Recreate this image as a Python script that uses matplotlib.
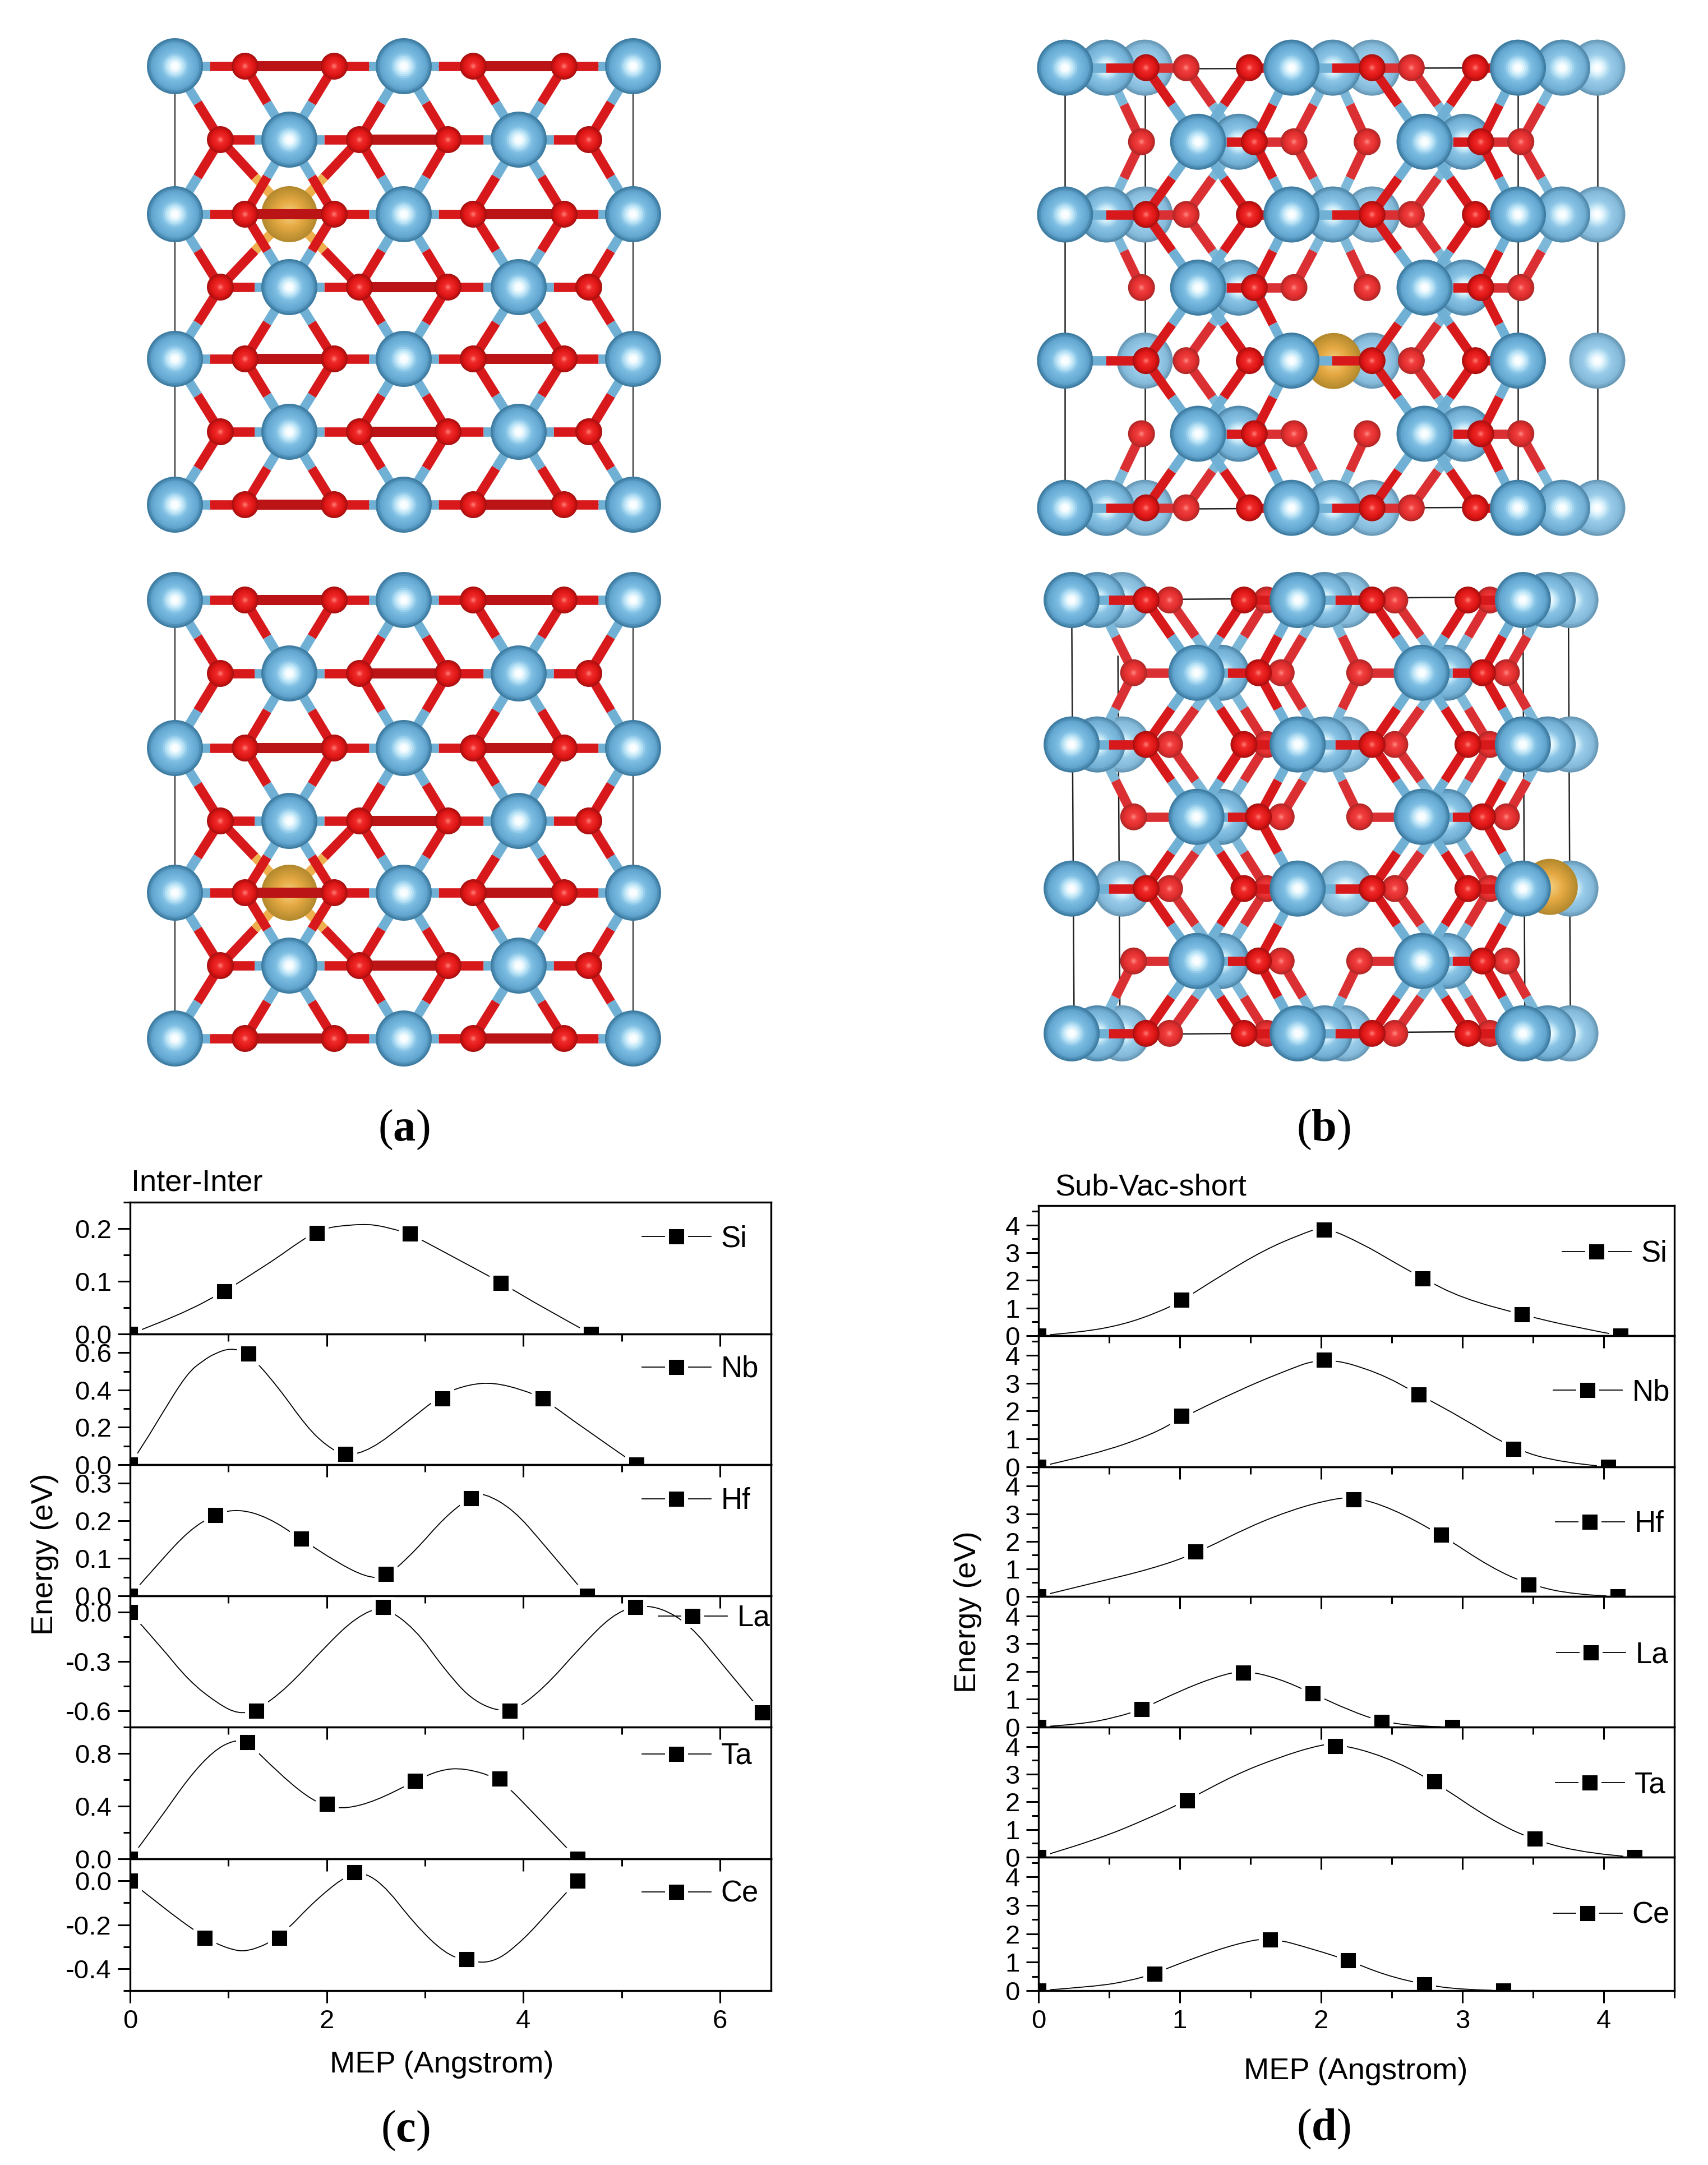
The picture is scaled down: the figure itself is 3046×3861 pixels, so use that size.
import numpy as np
import matplotlib
matplotlib.use('Agg')
import matplotlib.pyplot as plt
from matplotlib.colors import LinearSegmentedColormap, to_rgb
from matplotlib.lines import Line2D
from matplotlib.patches import PathPatch
from matplotlib.path import Path
from matplotlib.ticker import MultipleLocator

W, H = 3046, 3861
plt.rcParams['font.family'] = ['Liberation Sans', 'DejaVu Sans']
plt.rcParams['mathtext.fontset'] = 'custom'
plt.rcParams['mathtext.bf'] = 'Liberation Serif:bold'
plt.rcParams['mathtext.rm'] = 'Liberation Serif'
plt.rcParams['axes.unicode_minus'] = False

# Panel (c) Inter-Inter: points and the curve
c_si_x = [0, 0.96, 1.90, 2.845, 3.77, 4.69]
c_si_y = [0, 0.081, 0.192, 0.19, 0.097, 0]
c_si_cx = [0, 0.5, 1.0, 1.25, 1.5, 1.7, 1.9, 2.05, 2.2, 2.35, 2.5, 2.7, 2.85, 3.3, 3.77, 4.2, 4.69]
c_si_cy = [0, 0.035, 0.085, 0.115, 0.145, 0.172, 0.195, 0.203, 0.206, 0.208, 0.207, 0.198, 0.19, 0.145, 0.098, 0.05, 0]
c_nb_x = [0, 1.205, 2.19, 3.18, 4.2, 5.15]
c_nb_y = [0, 0.595, 0.057, 0.355, 0.355, 0]
c_nb_cx = [0, 0.15, 0.31, 0.58, 0.75, 0.86, 1.02, 1.2, 1.5, 1.8, 2.0, 2.19, 2.45, 2.8, 3.18, 3.45, 3.7, 4.0, 4.2, 4.6, 5.15]
c_nb_cy = [0, 0.12, 0.26, 0.49, 0.56, 0.595, 0.625, 0.6, 0.42, 0.2, 0.1, 0.045, 0.08, 0.22, 0.38, 0.43, 0.44, 0.40, 0.355, 0.2, 0]
c_hf_x = [0, 0.867, 1.74, 2.6, 3.47, 4.65]
c_hf_y = [0, 0.215, 0.152, 0.058, 0.26, 0]
c_hf_cx = [0, 0.3, 0.6, 0.867, 1.1, 1.4, 1.74, 2.1, 2.4, 2.6, 2.9, 3.2, 3.47, 3.6, 3.9, 4.2, 4.65]
c_hf_cy = [0, 0.09, 0.175, 0.218, 0.232, 0.21, 0.152, 0.09, 0.05, 0.048, 0.12, 0.21, 0.265, 0.275, 0.23, 0.14, 0]
c_la_x = [0, 1.285, 2.57, 3.86, 5.14, 6.43]
c_la_y = [0, -0.6, 0.03, -0.6, 0.03, -0.61]
c_la_cx = [0, 0.3, 0.6, 0.9, 1.1, 1.285, 1.6, 2.0, 2.3, 2.57, 2.9, 3.2, 3.5, 3.86, 4.2, 4.6, 4.9, 5.14, 5.4, 5.7, 6.0, 6.43]
c_la_cy = [0, -0.2, -0.42, -0.56, -0.62, -0.6, -0.46, -0.2, -0.03, 0.04, -0.1, -0.35, -0.55, -0.62, -0.47, -0.2, -0.02, 0.04, 0.03, -0.08, -0.3, -0.61]
c_ta_x = [0, 1.19, 2.0, 2.9, 3.76, 4.55]
c_ta_y = [0, 0.885, 0.418, 0.59, 0.61, 0]
c_ta_cx = [0, 0.3, 0.6, 0.85, 1.05, 1.19, 1.5, 1.8, 2.0, 2.2, 2.5, 2.9, 3.15, 3.4, 3.76, 4.1, 4.55]
c_ta_cy = [0, 0.3, 0.62, 0.82, 0.9, 0.89, 0.66, 0.47, 0.4, 0.38, 0.44, 0.59, 0.675, 0.69, 0.61, 0.35, 0]
c_ce_x = [0, 0.757, 1.52, 2.28, 3.42, 4.55]
c_ce_y = [0, -0.26, -0.26, 0.04, -0.358, 0]
c_ce_cx = [0, 0.3, 0.757, 1.0, 1.2, 1.52, 1.9, 2.28, 2.55, 2.9, 3.2, 3.42, 3.7, 4.0, 4.3, 4.55]
c_ce_cy = [0, -0.11, -0.26, -0.31, -0.325, -0.26, -0.08, 0.05, 0, -0.2, -0.33, -0.365, -0.375, -0.27, -0.12, 0]

# Panel (d) Sub-Vac-short
d_si_x = [0, 1.01, 2.02, 2.72, 3.42, 4.12]
d_si_y = [0, 1.29, 3.83, 2.07, 0.76, 0]
d_si_cx = [0, 0.3, 0.6, 0.85, 1.01, 1.3, 1.6, 1.85, 2.02, 2.3, 2.5, 2.72, 3.0, 3.42, 3.8, 4.12]
d_si_cy = [0, 0.12, 0.4, 0.85, 1.25, 2.2, 3.1, 3.65, 3.95, 3.3, 2.7, 2.07, 1.35, 0.76, 0.3, 0]
d_nb_x = [0, 1.01, 2.02, 2.69, 3.36, 4.03]
d_nb_y = [0, 1.83, 3.83, 2.6, 0.64, 0]
d_nb_cx = [0, 0.4, 0.8, 1.01, 1.4, 1.7, 2.02, 2.4, 2.69, 3.0, 3.36, 3.7, 4.03]
d_nb_cy = [0, 0.45, 1.15, 1.75, 2.7, 3.35, 3.95, 3.4, 2.6, 1.75, 0.64, 0.15, 0]
d_hf_x = [0, 1.11, 2.23, 2.85, 3.47, 4.1]
d_hf_y = [0, 1.62, 3.52, 2.24, 0.43, 0]
d_hf_cx = [0, 0.4, 0.8, 1.11, 1.5, 1.8, 2.05, 2.23, 2.5, 2.85, 3.2, 3.47, 3.8, 4.1]
d_hf_cy = [0, 0.5, 1.0, 1.55, 2.55, 3.15, 3.5, 3.62, 3.2, 2.24, 1.05, 0.43, 0.05, 0]
d_la_x = [0, 0.73, 1.45, 1.94, 2.43, 2.93]
d_la_y = [0, 0.64, 1.95, 1.21, 0.19, 0]
d_la_cx = [0, 0.3, 0.55, 0.73, 1.0, 1.25, 1.45, 1.7, 1.94, 2.2, 2.43, 2.7, 2.93]
d_la_cy = [0, 0.1, 0.35, 0.64, 1.3, 1.8, 2.05, 1.75, 1.21, 0.6, 0.19, 0.02, 0]
d_ta_x = [0, 1.05, 2.1, 2.8, 3.51, 4.22]
d_ta_y = [0, 2.05, 4.02, 2.74, 0.67, 0]
d_ta_cx = [0, 0.4, 0.8, 1.05, 1.4, 1.7, 1.95, 2.1, 2.45, 2.8, 3.2, 3.51, 3.9, 4.22]
d_ta_cy = [0, 0.6, 1.45, 2.05, 3.0, 3.6, 4.0, 4.12, 3.65, 2.74, 1.35, 0.6, 0.12, 0]
d_ce_x = [0, 0.82, 1.64, 2.19, 2.73, 3.29]
d_ce_y = [0, 0.6, 1.79, 1.07, 0.21, 0]
d_ce_cx = [0, 0.4, 0.65, 0.82, 1.1, 1.4, 1.64, 1.95, 2.19, 2.45, 2.73, 3.0, 3.29]
d_ce_cy = [0, 0.14, 0.35, 0.6, 1.15, 1.65, 1.88, 1.45, 1.07, 0.55, 0.21, 0.03, 0]

# y axis of each row: limits, major step, minor step
c_ylims = [(0, 0.25), (0, 0.7), (0, 0.35), (-0.7, 0.1), (0, 1.0), (-0.5, 0.1)]
c_major = [0.1, 0.2, 0.1, 0.3, 0.4, 0.2]
c_minor = [0.05, 0.1, 0.05, 0.15, 0.2, 0.1]

# Atom sites of panel (a), image pixels
a_hf_a_x = [312, 720, 1129]
a_hf_b_x = [516, 925]
a_o_a_x = [437, 596, 844, 1006]
a_o_b_x = [393, 641, 799, 1050]
a_rows_a = [118, 382, 640, 900]
a_rows_b = [249, 512, 770]
a_shift = 952

# Atom sites of panel (b), measured on the crops: three stacked layers
b1_hf_a_x = [162, 710, 1258]
b1_hf_b_x = [484, 1032]
b1_o_a_x = [358, 608, 905, 1155]
b1_o_b_x = [620, 1168]
b2_hf_a_x = [262, 810, 1365]
b2_hf_b_x = [582, 1128]
b2_o_a_x = [455, 1000]
b2_o_b_x = [347, 716, 893, 1265]
b3_hf_a_x = [355, 905, 1450]
b_rows_a = [116, 546, 974, 1405]
b_rows_b = [333, 760, 1188]

e1_hf_a_x = [178, 725, 1270]
e1_hf_b_x = [480, 1025]
e1_o_a_x = [358, 595, 905, 1137]
e1_o_b_x = [630, 1172]
e2_hf_a_x = [240, 790, 1330]
e2_hf_b_x = [540, 1085]
e2_o_a_x = [415, 650, 960, 1190]
e2_o_b_x = [328, 685, 875, 1230]
e3_hf_a_x = [300, 840, 1385]
e_rows_a = [115, 538, 960, 1384]
e_rows_b = [328, 750, 1172]

blue = LinearSegmentedColormap.from_list('b', [(0, '#ffffff'), (0.16, '#f6fcff'), (0.32, '#bfe6f7'),
                                               (0.52, '#7cbde2'), (0.85, '#62a6d0'), (1, '#3f7da3')])
red = LinearSegmentedColormap.from_list('r', [(0, '#ff8a80'), (0.3, '#f02a2a'), (0.75, '#dc1414'), (1, '#a81010')])
gold = LinearSegmentedColormap.from_list('g', [(0, '#f6d488'), (0.5, '#e6aa44'), (1, '#b58a2e')])


def fx(x):
    return x / W


def fy(y):
    return 1 - y / H


def faded(c, fade):
    c = np.array(to_rgb(c))
    return tuple(c + (1 - c) * fade)


def spheres(ax, xs, ys, r, cmap, fade=0.0):
    # each ball is a stack of shrinking discs, drawn in order
    steps = np.linspace(1, 0.08, 14)
    px, py, size, cols = [], [], [], []
    for x, y in zip(xs, ys):
        for t in steps:
            px.append(x)
            py.append(y)
            size.append((2 * r * t * 0.72) ** 2)
            cols.append(faded(cmap(t), fade))
    ax.scatter(px, py, s=size, c=cols, linewidths=0, zorder=2)


def half_bond(ax, p, q, c1, c2, fade=0.0):
    mx, my = (p[0] + q[0]) / 2, (p[1] + q[1]) / 2
    ax.plot([p[0], mx], [p[1], my], color=faded(c1, fade), lw=12, solid_capstyle='butt', zorder=2)
    ax.plot([mx, q[0]], [my, q[1]], color=faded(c2, fade), lw=12, solid_capstyle='butt', zorder=2)


def sites(xs, rows):
    return [(x, y) for y in rows for x in xs]


def draw_layer(ax, hf, ox, fade=0.0, cut=170):
    for o in ox:
        for h in hf:
            if np.hypot(o[0] - h[0], o[1] - h[1]) < cut:
                half_bond(ax, o, h, '#d7191c', '#6fb0d4', fade)
    if ox:
        spheres(ax, [p[0] for p in ox], [p[1] for p in ox], 24, red, fade)
    if hf:
        spheres(ax, [p[0] for p in hf], [p[1] for p in hf], 50, blue, fade)


def draw_a(ax, shift, dopant):
    rows_a = [y + shift for y in a_rows_a]
    rows_b = [y + shift for y in a_rows_b]
    hf = sites(a_hf_a_x, rows_a) + sites(a_hf_b_x, rows_b)
    ox = sites(a_o_a_x, rows_a) + sites(a_o_b_x, rows_b)
    ax.plot([a_hf_a_x[0], a_hf_a_x[-1], a_hf_a_x[-1], a_hf_a_x[0], a_hf_a_x[0]],
            [rows_a[0], rows_a[0], rows_a[-1], rows_a[-1], rows_a[0]], color='#333333', lw=1.6, zorder=2)
    for o in ox:
        if 170 < np.hypot(o[0] - dopant[0], o[1] - dopant[1]) < 190:
            half_bond(ax, o, dopant, '#d7191c', '#eeb04e')
    spheres(ax, [dopant[0]], [dopant[1]], 50, gold)
    for i, o in enumerate(ox):
        for q in ox[i + 1:]:
            if o[1] == q[1] and abs(o[0] - q[0]) < 170:
                ax.plot([o[0], q[0]], [o[1], q[1]], color='#bb1416', lw=13, solid_capstyle='butt', zorder=2)
    draw_layer(ax, hf, ox)


def to_px(points, x0, y0):
    return [(x0 + p[0] / 1.357, y0 + p[1] / 1.642) for p in points]


def draw_b(ax, x0, y0, layers, rows_a, rows_b, dopant, frame):
    for xs, ys in frame:
        pts = to_px(list(zip(xs, ys)), x0, y0)
        ax.plot([p[0] for p in pts], [p[1] for p in pts], color='#222222', lw=1.8, zorder=2)
    # back layer has no bonds of its own, front layer is drawn last
    for depth, (hf_a, hf_b, o_a, o_b, fade) in enumerate(layers):
        hf = sites(hf_a, rows_a) + sites(hf_b, rows_b)
        if depth == 1:
            hf = [p for p in hf if p[1] != rows_a[2]]
        ox = sites(o_a, rows_a) + sites(o_b, rows_b)
        if depth == 1:
            spheres(ax, [x0 + dopant[0] / 1.357], [y0 + dopant[1] / 1.642], 50, gold)
        draw_layer(ax, to_px(hf, x0, y0), to_px(ox, x0, y0), fade)


def smooth_line(ax, cx, cy):
    # quadratic path with the read values as control points
    pts = list(zip(cx, cy))
    verts, codes = [pts[0]], [Path.MOVETO]
    for i in range(1, len(pts) - 1):
        end = pts[-1] if i == len(pts) - 2 else ((pts[i][0] + pts[i + 1][0]) / 2, (pts[i][1] + pts[i + 1][1]) / 2)
        verts += [pts[i], end]
        codes += [Path.CURVE3, Path.CURVE3]
    ax.add_patch(PathPatch(Path(verts, codes), fill=False, edgecolor='black', lw=1.3))


def draw_stack(pos, rows, xlim, xmajor, xminor, ylims, ymajor, yminor, legend_pos):
    left, right, edges = pos
    for i, (name, x, y, cx, cy) in enumerate(rows):
        ax = fig.add_axes([fx(left), fy(edges[i + 1]), fx(right - left), (edges[i + 1] - edges[i]) / H])
        ax.patch.set_alpha(0)
        smooth_line(ax, cx, cy)
        ax.plot(x, y, 's', ms=24, mfc='black', mec='white', mew=5)
        ax.set_xlim(xlim)
        ax.set_ylim(ylims[i])
        ax.xaxis.set_major_locator(MultipleLocator(xmajor))
        ax.xaxis.set_minor_locator(MultipleLocator(xminor))
        ax.yaxis.set_major_locator(MultipleLocator(ymajor[i]))
        ax.yaxis.set_minor_locator(MultipleLocator(yminor[i]))
        ax.tick_params(which='major', direction='out', length=16, width=2.2, labelsize=34, pad=8)
        ax.tick_params(which='minor', direction='out', length=9, width=2.2)
        if i < len(rows) - 1:
            ax.tick_params(axis='x', labelbottom=False)
        for s in ax.spines.values():
            s.set_linewidth(2.4)
        handle = Line2D([], [], color='black', lw=1.3, marker='s', ms=24, mfc='black', mec='white', mew=5)
        lx, ly = legend_pos[i]
        ax.legend([handle], [name], loc='center left', bbox_to_anchor=(fx(lx), fy(ly)),
                  bbox_transform=fig.transFigure, frameon=False, fontsize=38, borderpad=0,
                  borderaxespad=0, handlelength=2.33, handletextpad=0.33, numpoints=1)


fig = plt.figure(figsize=(W / 100, H / 100), dpi=100)
bg = fig.add_axes([0, 0, 1, 1])
bg.set_xlim(0, W)
bg.set_ylim(H, 0)
bg.axis('off')

# Panel (a)
draw_a(bg, 0, (516, 382))
draw_a(bg, a_shift, (516, 640 + a_shift))

# Panel (b)
layers_top = [(b3_hf_a_x, [], [], [], 0.22),
              (b2_hf_a_x, b2_hf_b_x, b2_o_a_x, b2_o_b_x, 0.1),
              (b1_hf_a_x, b1_hf_b_x, b1_o_a_x, b1_o_b_x, 0.0)]
frame_top = [([162, 162], [120, 1408]), ([355, 355], [120, 1408]), ([1258, 1258], [120, 1408]),
             ([1450, 1450], [120, 1408]), ([162, 1435], [120, 116]), ([162, 1435], [1410, 1402])]
draw_b(bg, 1780, 50, layers_top, b_rows_a, b_rows_b, (812, 975), frame_top)

layers_bottom = [(e3_hf_a_x, [], [], [], 0.22),
                 (e2_hf_a_x, e2_hf_b_x, e2_o_a_x, e2_o_b_x, 0.1),
                 (e1_hf_a_x, e1_hf_b_x, e1_o_a_x, e1_o_b_x, 0.0)]
frame_bottom = [([178, 184], [115, 1385]), ([290, 295], [280, 1385]), ([1270, 1275], [108, 1380]),
                ([1380, 1385], [108, 1380]), ([178, 1265], [115, 106]), ([190, 1270], [1388, 1378])]
draw_b(bg, 1780, 1000, layers_bottom, e_rows_a, e_rows_b, (1335, 955), frame_bottom)

# Panel (c)
rows_c = [('Si', c_si_x, c_si_y, c_si_cx, c_si_cy), ('Nb', c_nb_x, c_nb_y, c_nb_cx, c_nb_cy),
          ('Hf', c_hf_x, c_hf_y, c_hf_cx, c_hf_cy), ('La', c_la_x, c_la_y, c_la_cx, c_la_cy),
          ('Ta', c_ta_x, c_ta_y, c_ta_cx, c_ta_cy), ('Ce', c_ce_x, c_ce_y, c_ce_cx, c_ce_cy)]
legend_c = [(1145, 2209), (1145, 2442), (1145, 2677), (1174, 2886), (1145, 3132), (1145, 3378)]
draw_stack((232, 1375, [2144, 2379, 2612, 2846, 3080, 3315, 3550]), rows_c, (0, 6.52), 2, 1,
           c_ylims, c_major, c_minor, legend_c)

# Panel (d)
rows_d = [('Si', d_si_x, d_si_y, d_si_cx, d_si_cy), ('Nb', d_nb_x, d_nb_y, d_nb_cx, d_nb_cy),
          ('Hf', d_hf_x, d_hf_y, d_hf_cx, d_hf_cy), ('La', d_la_x, d_la_y, d_la_cx, d_la_cy),
          ('Ta', d_ta_x, d_ta_y, d_ta_cx, d_ta_cy), ('Ce', d_ce_x, d_ce_y, d_ce_cx, d_ce_cy)]
legend_d = [(2786, 2236), (2770, 2483), (2774, 2718), (2776, 2951), (2774, 3183), (2770, 3416)]
draw_stack((1852, 2986, [2150, 2382, 2616, 2847, 3080, 3312, 3550]), rows_d, (0, 4.5), 1, 0.5,
           [(0, 4.7)] * 6, [1] * 6, [0.5] * 6, legend_d)

# Titles and axis labels
fig.text(fx(234), fy(2109), 'Inter-Inter', fontsize=39, va='center', ha='left')
fig.text(fx(1881), fy(2117), 'Sub-Vac-short', fontsize=39, va='center', ha='left')
fig.text(fx(788), fy(3682), 'MEP (Angstrom)', fontsize=39, va='center', ha='center')
fig.text(fx(2418), fy(3694), 'MEP (Angstrom)', fontsize=39, va='center', ha='center')
fig.text(fx(80), fy(2772), 'Energy (eV)', fontsize=39, va='center', ha='center', rotation=90)
fig.text(fx(1726), fy(2875), 'Energy (eV)', fontsize=39, va='center', ha='center', rotation=90)

for letter, x, y in [('a', 720, 2015), ('b', 2360, 2015), ('c', 723, 3800), ('d', 2360, 3797)]:
    fig.text(fx(x), fy(y), '($\\mathbf{%s}$)' % letter, fontsize=58, family='Liberation Serif',
             va='center', ha='center')

fig.savefig('out.png', dpi=100)
